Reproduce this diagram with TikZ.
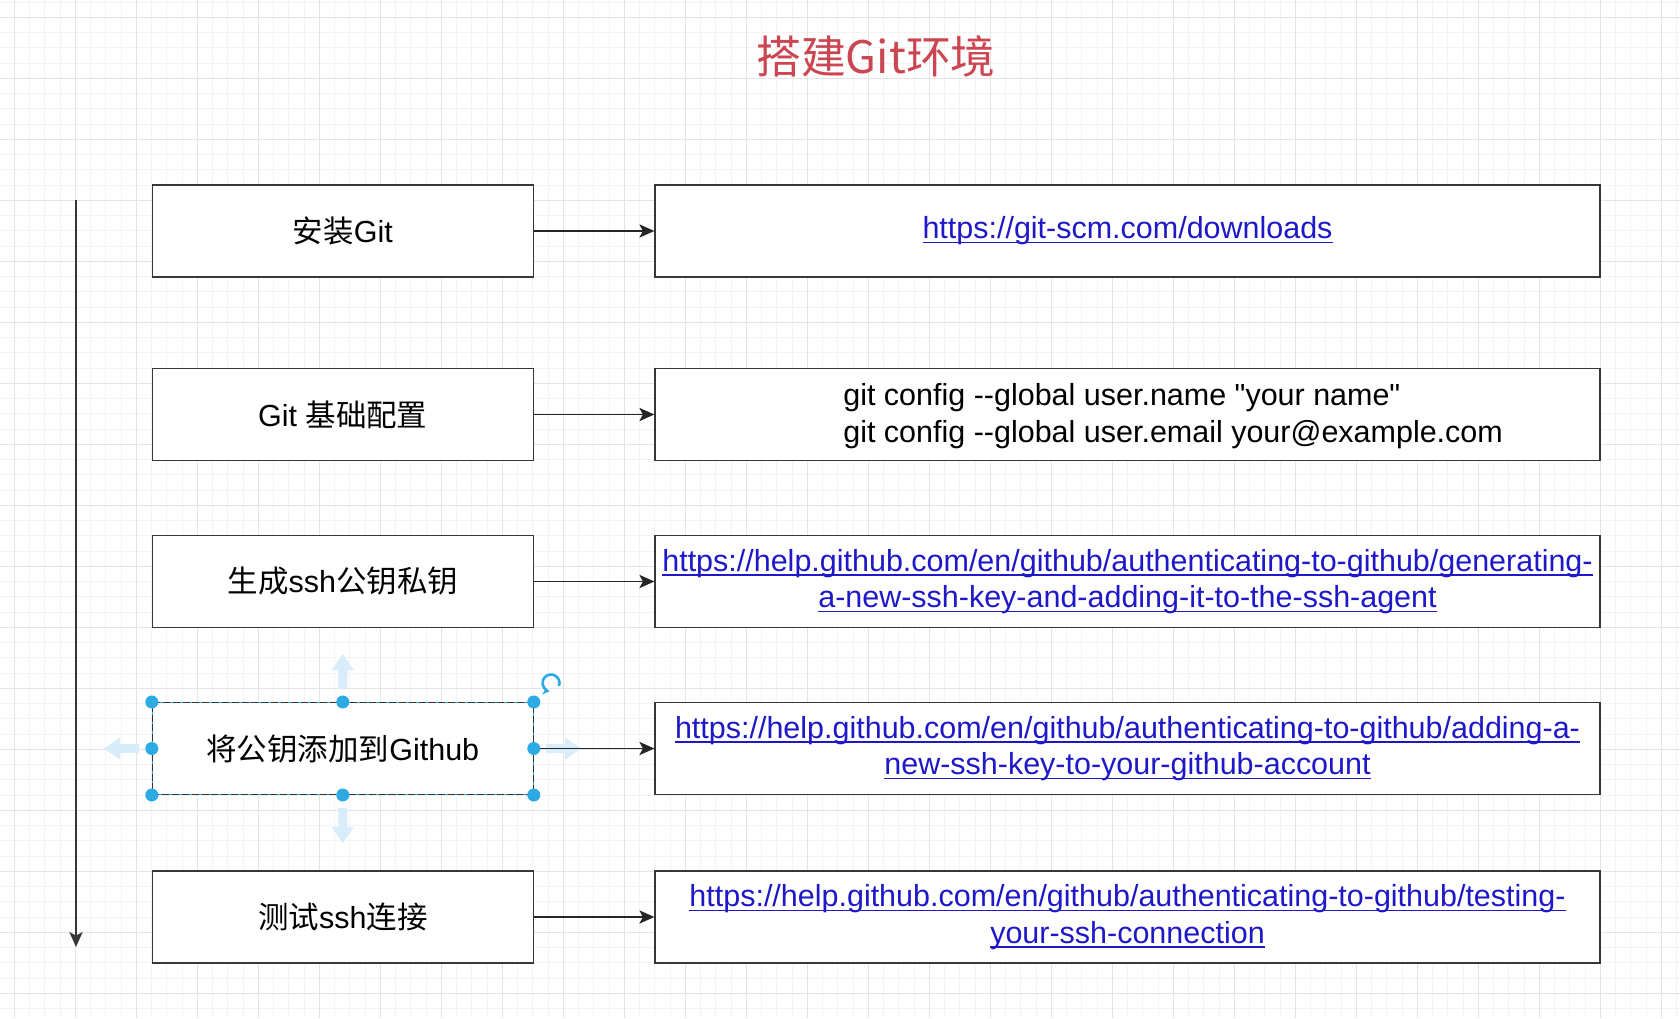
\documentclass[tikz,border=0pt]{standalone}
\usepackage{fontspec}
\setmainfont{Liberation Sans}
\newfontfamily\helv{Liberation Sans}
\newfontfamily\cjk{Noto Sans CJK SC}
\usetikzlibrary{positioning, arrows.meta}

\definecolor{titlered}{RGB}{204,70,82}
\definecolor{linkblue}{RGB}{30,24,200}
\definecolor{handleblue}{RGB}{44,170,228}
\definecolor{hoverblue}{RGB}{216,236,250}
\definecolor{gridminor}{RGB}{243,243,243}
\definecolor{gridmajor}{RGB}{228,228,228}
\definecolor{boxline}{RGB}{55,55,55}

\newcommand{\boxfont}{\helv\fontsize{17.35}{20.8}\selectfont}
\newcommand{\weblink}[1]{\textcolor{linkblue}{\setbox0\hbox{#1}\rlap{\rule[-2.6pt]{\wd0}{0.9pt}}\box0}}

\tikzset{
  stepbox/.style={draw=boxline, line width=0.85pt, fill=white, minimum width=7.62cm, minimum height=1.84cm, inner sep=0pt, font=\boxfont},
  infobox/.style={stepbox, minimum width=18.9cm, align=center},
  selbox/.style={stepbox, draw=handleblue, line width=0.6pt, postaction={draw=black!80, dash pattern=on 4pt off 1.6pt}},
  flow/.style={draw=black!85, line width=0.85pt, -{Stealth[length=8.5pt, width=7.5pt, inset=2pt]}},
  handle/.style={fill=handleblue},
  hover/.style={fill=hoverblue},
}

\begin{document}
\begin{tikzpicture}[x=0.02cm, y=-0.02cm]
\useasboundingbox (0,0) rectangle (1680,1018);
\fill[white] (0,0) rectangle (1680,1018);

% grid
\foreach \i in {0,...,110}
  \draw[gridminor, line width=0.5pt] ({-0.95+15.25*\i},0) -- ({-0.95+15.25*\i},1018);
\foreach \i in {0,...,66}
  \draw[gridminor, line width=0.5pt] (0,{2.05+15.25*\i}) -- (1680,{2.05+15.25*\i});
\foreach \i in {0,...,27}
  \draw[gridmajor, line width=0.6pt] ({14.3+61*\i},0) -- ({14.3+61*\i},1018);
\foreach \i in {0,...,16}
  \draw[gridmajor, line width=0.6pt] (0,{17.3+61*\i}) -- (1680,{17.3+61*\i});

% title
\node[text=titlered, font=\cjk\fontsize{25.5}{30}\selectfont] (title) at (876,56) {搭建Git环境};

% steps
\node[stepbox] (install) at (342.8,231) {{\cjk 安装}Git};
\node[stepbox] (config) at (342.8,414.5) {Git {\cjk 基础配置}};
\node[stepbox] (keygen) at (342.8,581.5) {{\cjk 生成}ssh{\cjk 公钥私钥}};
\node[selbox] (pubkey) at (342.8,748.5) {{\cjk 将公钥添加到}Github};
\node[stepbox] (sshtest) at (342.8,917) {{\cjk 测试}ssh{\cjk 连接}};

% details
\node[infobox] (download) at (1127.5,231) {\weblink{https://git-scm.com/downloads}};
\node[infobox] (cfgbox) at (1127.5,414.5) {};
\node[font=\boxfont, align=left, inner sep=0pt, anchor=west] (cfgtext) at (843,416)
  {git config -{}-global user.name "your name"\\git config -{}-global user.email your@example.com};
\node[infobox] (keydoc) at (1127.5,581.5)
  {\weblink{https://help.github.com/en/github/authenticating-to-github/generating-}\\
   \weblink{a-new-ssh-key-and-adding-it-to-the-ssh-agent}};
\node[infobox] (adddoc) at (1127.5,748.5)
  {\weblink{https://help.github.com/en/github/authenticating-to-github/adding-a-}\\
   \weblink{new-ssh-key-to-your-github-account}};
\node[infobox] (testdoc) at (1127.5,917)
  {\weblink{https://help.github.com/en/github/authenticating-to-github/testing-}\\
   \weblink{your-ssh-connection}};

% hover arrows round the selected step
\foreach \px/\py/\ang in {342.8/672/90, 342.8/825/-90, 122/748.5/180, 563/748.5/0}
  \fill[hover, shift={(\px,\py)}, rotate=\ang]
    (-17,-4.5) -- (2,-4.5) -- (2,-11) -- (18,0) -- (2,11) -- (2,4.5) -- (-17,4.5) -- cycle;

% connectors
\draw[flow] (install) -- (download);
\draw[flow] (config) -- (cfgbox);
\draw[flow] (keygen) -- (keydoc);
\draw[flow] (pubkey) -- (adddoc);
\draw[flow] (sshtest) -- (testdoc);

\coordinate (flowtop) at (76,200);
\coordinate (flowend) at (76,947);
\draw[flow, draw=boxline] (flowtop) -- (flowend);

% selection handles
\foreach \a in {north west, north, north east, west, east, south west, south, south east}
  \fill[handle] (pubkey.\a) circle[radius=0.13cm];
\coordinate (rotknob) at (551,683);
\draw[handleblue, line width=1.5pt, -{Stealth[length=4pt, width=5pt]}]
  (rotknob) ++(-20:0.17cm) arc[start angle=-20, end angle=260, radius=0.17cm];
\end{tikzpicture}
\end{document}
